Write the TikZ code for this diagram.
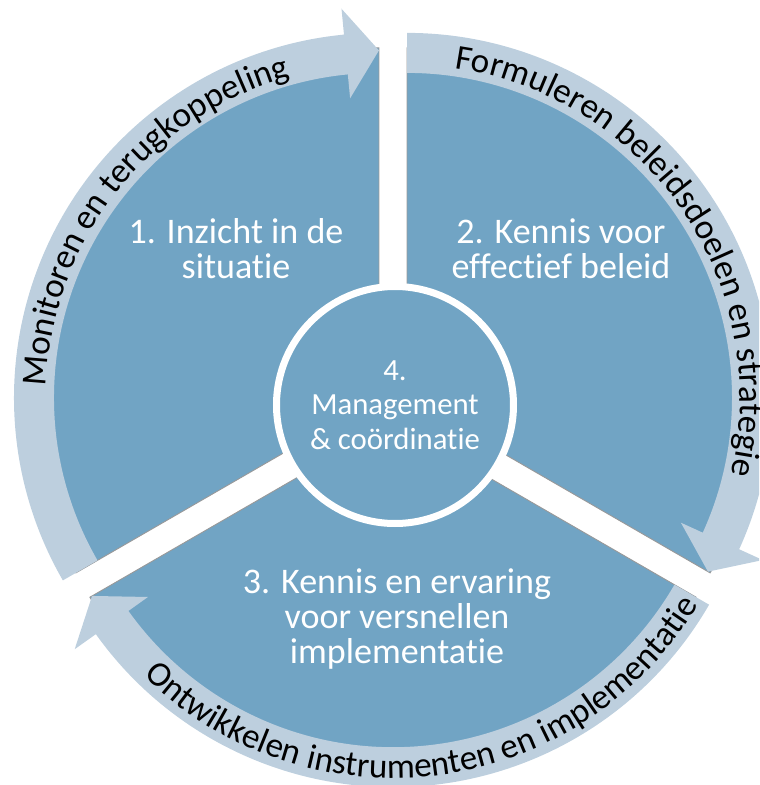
\documentclass[tikz,border=0pt]{standalone}
\usepackage{fontspec}
\setmainfont{Carlito}[Ligatures=NoCommon]
\usetikzlibrary{decorations.text}
\definecolor{pieblue}{RGB}{113,164,196}
\definecolor{ringblue}{RGB}{189,207,222}
\newcommand{\bandfont}{\fontsize{20}{24}\selectfont}
\tikzset{
  sectorpiece/.style={fill=pieblue, draw=black!40, line width=0.5pt},
  bandarrow/.style={fill=ringblue},
  sectortext/.style={text=white, align=center, font=\fontsize{20.5}{20}\selectfont},
  hub/.style={shape=circle, fill=pieblue, draw=white, line width=0.14cm, minimum size=4.74cm, inner sep=0pt, text=white, align=center, font=\fontsize{17.5}{19.5}\selectfont},
  bandtext/.style={decorate, decoration={text along path, text align=center, text={|\bandfont|#1}}}
}
\begin{document}
\begin{tikzpicture}
\useasboundingbox (-7.86,-7.58) rectangle (7.32,8.12);
\clip (-7.86,-7.58) rectangle (7.32,8.12);
\foreach \b in {150,30,270} {
  \path[sectorpiece] (\b:0.324) -- ++(\b+60:7) arc (\b+60:\b-60:7) -- cycle;
}
\foreach \b in {150,30,270} {
  \begin{scope}[shift={(\b:0.324)}]
    \path[bandarrow] (\b+60:6.5) arc (\b+60:\b-54.5:6.5) -- (\b-54.5:6.02) -- (\b-60:6.95) -- (\b-54.5:7.82) -- (\b-54.5:7.3) arc (\b-54.5:\b+60:7.3) -- cycle;
  \end{scope}
}
\begin{scope}[shift={(150:0.324)}]
\path[bandtext={Monitoren en terugkoppeling}] (200:6.66) arc (200:83.4:6.66);
\end{scope}
\begin{scope}[shift={(30:0.324)}]
\path[bandtext={Formuleren beleidsdoelen en strategie}] (92.6:6.66) arc (92.6:-24:6.66);
\end{scope}
\begin{scope}[shift={(270:0.324)}]
\path[bandtext={Ontwikkelen instrumenten en implementatie}] (217.3:7.12) arc (217.3:337.3:7.12);
\end{scope}
\node[hub] (hub) at (0.04,0.02) {4.\\Management\\\& coördinatie};
\node[sectortext] (inzicht) at (-3.14,3.14) {1. Inzicht in de\\situatie};
\node[sectortext] (beleid) at (3.36,3.14) {2. Kennis voor\\effectief beleid};
\node[sectortext] (ervaring) at (0.08,-4.26) {3. Kennis en ervaring\\voor versnellen\\implementatie};
\end{tikzpicture}
\end{document}
